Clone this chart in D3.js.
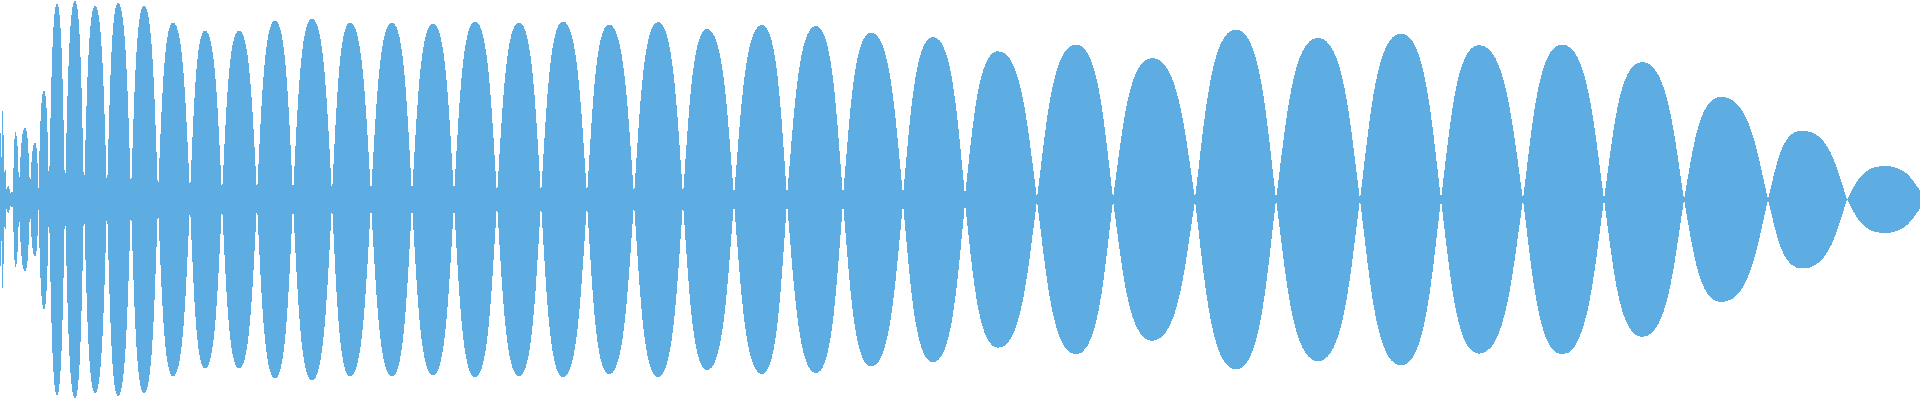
<!DOCTYPE html>
<html>
<head>
<meta charset="utf-8">
<script src="https://cdn.jsdelivr.net/npm/d3@7"></script>
<style>
	body { margin: 0; background: #ffffff; }
	svg { display: block; }
</style>
</head>
<body>
<div class="wave"></div>
<script>

// zero crossings ("necks") between lobes: time and remaining level (% of full scale)
var neckTime = [0, 1.3, 4, 6.5, 10, 13, 19, 30, 38.5, 49,
				65, 84, 107, 131, 158, 190, 222, 257, 293, 332,
				371, 412, 454, 497, 541, 587, 634, 683, 734, 787,
				843, 903, 965, 1037, 1113, 1195, 1276, 1360, 1441, 1523,
				1604, 1684, 1768, 1847, 1920];
var neckLevel = [25, 8.5, 10, 5, 2.5, 3, 6, 5, 5.5, 4,
				 3, 3, 3, 3, 3, 3, 2.5, 2.5, 2.5, 2.5,
				 2.5, 2.5, 2.5, 2, 2, 2, 2, 2, 1.5, 1.5,
				 1.5, 2, 2, 0.5, 0.5, 0.5, 0, 0, 0, 0,
				 0, 0, 0, 0, 4.5];

// peak of every lobe
var peakTime = [0.5, 2.6, 5.3, 8.5, 11.5, 15.5, 25, 35, 44,
				57, 75, 95, 118, 144, 173, 205, 239, 275, 312,
				350, 392, 433, 475, 519, 563, 609, 658, 707, 762,
				816, 871, 933, 998, 1076, 1152, 1236, 1318, 1401, 1479,
				1562, 1642, 1721, 1802, 1884];
var peakLevel = [33.1, 44.6, 15, 7, 4, 33.6, 36.1, 28.6, 55.1,
				 98.2, 99.7, 97.2, 98.7, 97.2, 88.7, 84.7, 84.7, 89.7, 90.7,
				 88.7, 88.7, 88.2, 89.2, 88.7, 89.2, 87.7, 89.0, 85.5, 87.5,
				 87.0, 83.7, 81.5, 74.4, 77.7, 70.9, 85.2, 81.0, 83.2, 77.4,
				 77.7, 68.9, 51.4, 34.6, 16.8];

var width = 1920;
var height = 400;

// lobe curve: steep at the neck, flat over the peak
function LobeCurve(context) {
	this._context = context;
}
LobeCurve.prototype = {
	areaStart: function() { this._line = 0; },
	areaEnd: function() { this._line = NaN; },
	lineStart: function() { this._point = 0; },
	lineEnd: function() {
		if (this._line || (this._line !== 0 && this._point === 1)) this._context.closePath();
		this._line = 1 - this._line;
	},
	point: function(x, y) {
		x = +x; y = +y;
		if (this._point === 0) {
			this._line ? this._context.lineTo(x, y) : this._context.moveTo(x, y);
		} else {
			var x0 = this._x0, y0 = this._y0, dx = x - x0, dy = y - y0;
			if (this._point % 2 === 1) {
				this._context.bezierCurveTo(x0 + 0.25 * dx, y0 + 0.5 * dy, x - 0.6 * dx, y, x, y);
			} else {
				this._context.bezierCurveTo(x0 + 0.6 * dx, y0, x - 0.25 * dx, y - 0.5 * dy, x, y);
			}
		}
		this._point++;
		this._x0 = x;
		this._y0 = y;
	}
};
function curveLobe(context) { return new LobeCurve(context); }

var canvas = d3.select(".wave")
			   .append("svg")
			   .attr("width", width)
			   .attr("height", height)

var xScale = d3.scaleLinear()
			   .domain([0, 1920])
			   .range([0, width]);

var yScale = d3.scaleLinear()
			   .domain([-100, 100])
			   .range([height - 1, 0]);

var area = d3.area()
			 .x(function(d) { return xScale(d.t); })
			 .y0(function(d) { return yScale(-d.v); })
			 .y1(function(d) { return yScale(d.v); })
			 .curve(curveLobe)

// one lobe = neck, peak, next neck
var lobes = peakTime.map(function(t, i) {
	return [
		{ t: neckTime[i], v: neckLevel[i] },
		{ t: t, v: peakLevel[i] },
		{ t: neckTime[i + 1], v: neckLevel[i + 1] }
	];
})

// all lobes in a single path so no seams show between them
canvas.append("path")
	  .attr("d", lobes.map(function(l) { return area(l); }).join(""))
	  .attr("fill", "#5dade2")
	  .attr("shape-rendering", "crispEdges")

</script>
</body>
</html>
